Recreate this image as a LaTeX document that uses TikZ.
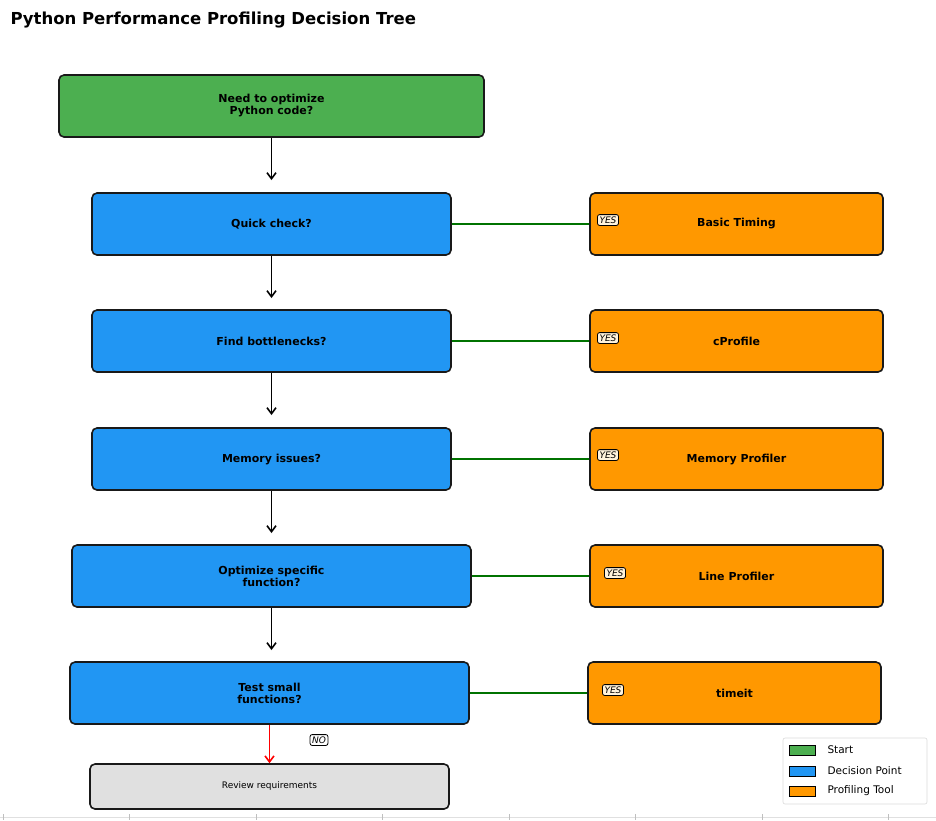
\documentclass[tikz,border=0pt]{standalone}
\usepackage{fontspec}
\setmainfont{DejaVu Sans}
\usetikzlibrary{arrows.meta}
\definecolor{startgreen}{HTML}{4CAF50}
\definecolor{decblue}{HTML}{2196F3}
\definecolor{toolorange}{HTML}{FF9800}
\definecolor{reviewgray}{HTML}{E0E0E0}
\definecolor{yesfill}{HTML}{FFF3DC}
\begin{document}
\begin{tikzpicture}[x=1pt,y=-1pt,
	box/.style = {draw=black!90, line width=1.6pt, rounded corners=5pt, align=center,
		font=\fontsize{11}{12}\selectfont\bfseries, inner sep=0pt},
	start node/.style = {box, fill=startgreen, minimum width=425pt, minimum height=62pt},
	dec node/.style = {box, fill=decblue, minimum width=359pt, minimum height=62pt},
	wide node/.style = {box, fill=decblue, minimum width=399pt, minimum height=62pt},
	tool node/.style = {box, fill=toolorange, minimum width=293pt, minimum height=62pt},
	tag/.style = {draw, rounded corners=2pt, line width=0.8pt, inner sep=2pt,
		font=\fontsize{9}{10}\selectfont\itshape},
	down/.style = {-{Straight Barb[length=6pt,width=9pt]}, line width=1.6pt},
	yes line/.style = {draw=green!45!black, line width=1.6pt},
	key/.style = {draw, line width=0.6pt, minimum width=26pt, minimum height=10pt, inner sep=0pt}]

	\useasboundingbox (0,0) rectangle (936,820);
	\node[anchor=west, font=\fontsize{16.5}{18}\selectfont\bfseries] (title) at (7,20) {Python Performance Profiling Decision Tree};

	% main column
	\node[start node] (s) at (271.5,106) {Need to optimize\\Python code?};
	\node[dec node] (q1) at (271.5,224) {Quick check?};
	\node[dec node] (q2) at (271.5,341) {Find bottlenecks?};
	\node[dec node] (q3) at (271.5,459) {Memory issues?};
	\node[wide node] (q4) at (271.5,576) {Optimize specific\\function?};
	\node[wide node] (q5) at (269.5,693) {Test small\\functions?};
	\node[box, fill=reviewgray, minimum width=359pt, minimum height=45pt, font=\fontsize{9}{10}\selectfont] (r) at (269.5,786.5) {Review requirements};

	% tools
	\node[tool node] (t1) at (736.5,224) {Basic Timing};
	\node[tool node] (t2) at (736.5,341) {cProfile};
	\node[tool node] (t3) at (736.5,459) {Memory Profiler};
	\node[tool node] (t4) at (736.5,576) {Line Profiler};
	\node[tool node] (t5) at (734.5,693) {timeit};

	\coordinate (a1) at (271.5,180);
	\coordinate (a2) at (271.5,298);
	\coordinate (a3) at (271.5,415);
	\coordinate (a4) at (271.5,533);
	\coordinate (a5) at (271.5,650);
	\draw[down] (s) -- (a1);
	\draw[down] (q1) -- (a2);
	\draw[down] (q2) -- (a3);
	\draw[down] (q3) -- (a4);
	\draw[down] (q4) -- (a5);
	\draw[down, red] (q5) -- (r);

	\foreach \q/\t in {q1/t1,q2/t2,q3/t3,q4/t4,q5/t5}
		\draw[yes line] (\q) -- (\t);

	\node[tag, fill=yesfill] (y1) at (608,220) {YES};
	\node[tag, fill=yesfill] (y2) at (608,338) {YES};
	\node[tag, fill=yesfill] (y3) at (608,455) {YES};
	\node[tag, fill=yesfill] (y4) at (615,573) {YES};
	\node[tag, fill=yesfill] (y5) at (613,690) {YES};
	\node[tag, fill=white] (no) at (319,740) {NO};

	% legend
	\node[draw=black!15, line width=0.6pt, rounded corners=2pt, minimum width=144pt, minimum height=66pt] (leg) at (855,771) {};
	\node[key, fill=startgreen] (k1) at (802,750) {};
	\node[key, fill=decblue] (k2) at (802,771) {};
	\node[key, fill=toolorange] (k3) at (802,791) {};
	\foreach \k/\txt in {k1/Start,k2/Decision Point,k3/Profiling Tool}
		\node[anchor=west, font=\fontsize{10.5}{11}\selectfont, inner sep=0pt] at ([xshift=12pt]\k.east) {\txt};

	% axis ticks
	\draw[black!12, line width=0.6pt] (0,817) -- (936,817);
	\foreach \x in {3,129,256,382,509,635,762,888}
		\draw[black!25, line width=0.6pt] (\x,814) -- (\x,820);
\end{tikzpicture}
\end{document}
